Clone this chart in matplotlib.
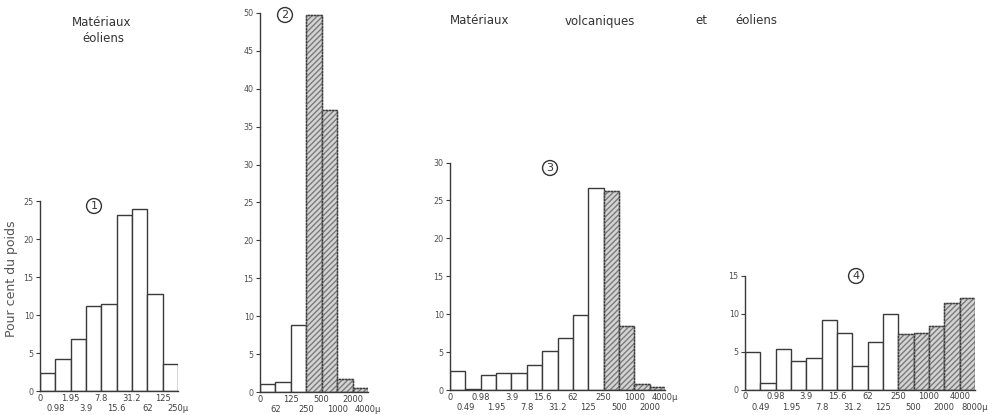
import numpy as np
from matplotlib import pyplot as plt

plt.rcParams['font.family'] = ['DejaVu Sans']

# limites des classes granulométriques (microns) et pourcentages en poids
bornes_1 = ['0', '0.98', '1.95', '3.9', '7.8', '15.6', '31.2', '62', '125', '250µ']
poids_1 = [2.4, 4.2, 6.8, 11.2, 11.5, 23.2, 24.0, 12.8, 3.6]

bornes_2 = ['0', '62', '125', '250', '500', '1000', '2000', '4000µ']
poids_2 = [1.0, 1.3, 8.9, 49.8, 37.2, 1.7, 0.5]

bornes_3 = ['0', '0.49', '0.98', '1.95', '3.9', '7.8', '15.6', '31.2', '62', '125',
            '250', '500', '1000', '2000', '4000µ']
poids_3 = [2.5, 0.15, 2.0, 2.2, 2.2, 3.3, 5.1, 6.8, 9.9, 26.6, 26.3, 8.5, 0.75, 0.45]

bornes_4 = ['0', '0.49', '0.98', '1.95', '3.9', '7.8', '15.6', '31.2', '62', '125',
            '250', '500', '1000', '2000', '4000', '8000µ']
poids_4 = [5.0, 0.9, 5.3, 3.7, 4.2, 9.2, 7.4, 3.1, 6.3, 9.9, 7.3, 7.5, 8.4, 11.4, 12.1]

# premiere classe hachuree (> 250 µ), None = pas de hachures
hach_1 = None
hach_2 = 3
hach_3 = 10
hach_4 = 10

W, H = 1001, 415
K = 7.58  # pixels par pour cent
ligne = '#3a3a3a'

fig = plt.figure(figsize=(W / 100, H / 100), dpi=100)


def histo(x_g, x_d, y0, ymax, bornes, poids, hach, num, cx, cy):
    ax = fig.add_axes([x_g / W, (H - y0) / H, (x_d - x_g) / W, ymax * K / H])
    n = len(poids)
    x = np.arange(n)
    for i in range(n):
        if hach is not None and i >= hach:
            ax.bar(x[i], poids[i], width=1, align='edge', facecolor='#d4d4d4',
                   edgecolor='#7a7a7a', hatch='//////', linewidth=1.0)
            ax.bar(x[i], poids[i], width=1, align='edge', facecolor='none',
                   edgecolor=ligne, linewidth=1.0, linestyle=(0, (1.5, 0.8)))
        else:
            ax.bar(x[i], poids[i], width=1, align='edge', facecolor='white',
                   edgecolor=ligne, linewidth=1.0)
    ax.set_xlim(0, n)
    ax.set_ylim(0, ymax)
    ax.set_yticks(np.arange(0, ymax + 1, 5))
    ax.set_yticklabels([str(v) for v in np.arange(0, ymax + 1, 5)])
    # bornes paires en haut, bornes impaires sur une deuxieme ligne
    pos = np.arange(n + 1)
    ax.set_xticks(pos[0::2])
    ax.set_xticklabels(bornes[0::2], fontsize=6, color='#404040')
    ax.set_xticks(pos[1::2], minor=True)
    ax.set_xticklabels(bornes[1::2], minor=True, fontsize=6, color='#404040')
    ax.tick_params(axis='x', which='major', length=0, pad=2)
    ax.tick_params(axis='x', which='minor', length=0, pad=9.5)
    ax.tick_params(axis='y', length=3, width=0.8, color=ligne, labelsize=5.8,
                   labelcolor='#505050', pad=1.5)
    for s in ['top', 'right']:
        ax.spines[s].set_visible(False)
    for s in ['left', 'bottom']:
        ax.spines[s].set_color(ligne)
        ax.spines[s].set_linewidth(1.0)
    fig.text(cx / W, 1 - cy / H, str(num), ha='center', va='center', fontsize=8,
             color='#333333',
             bbox=dict(boxstyle='circle,pad=0.22', facecolor='white', edgecolor='#333333',
                       linewidth=1.0))
    return ax


histo(40, 178, 391, 25, bornes_1, poids_1, hach_1, 1, 94, 206)
histo(260, 368, 392, 50, bornes_2, poids_2, hach_2, 2, 285, 15)
histo(450, 665, 390, 30, bornes_3, poids_3, hach_3, 3, 550, 168)
histo(745, 975, 389.5, 15, bornes_4, poids_4, hach_4, 4, 856, 276)

# titres
fig.text(102 / W, 1 - 23 / H, 'Matériaux', ha='center', va='center', fontsize=8.5,
         color='#333333')
fig.text(103 / W, 1 - 39 / H, 'éoliens', ha='center', va='center', fontsize=8.5,
         color='#333333')
for mot, xm in [('Matériaux', 450), ('volcaniques', 565), ('et', 695), ('éoliens', 735)]:
    fig.text(xm / W, 1 - 21 / H, mot, ha='left', va='center', fontsize=8.5,
             color='#333333')

fig.text(12 / W, 1 - 279 / H, 'Pour cent du poids', rotation=90, ha='center',
         va='center', fontsize=9, color='#555555')

fig.savefig('out.png', dpi=100)
